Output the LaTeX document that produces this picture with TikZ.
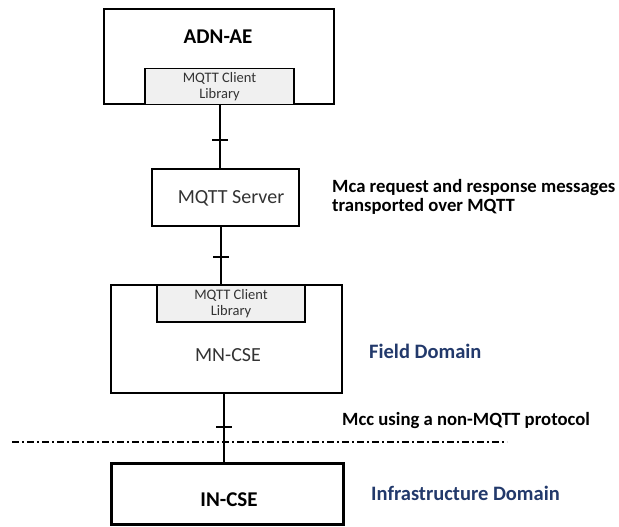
\documentclass[tikz,border=0pt]{standalone}
\usepackage{fontspec}
\setmainfont{Carlito}
\usetikzlibrary{calc}
\definecolor{libgray}{HTML}{F0F0F0}
\definecolor{domblue}{HTML}{22396B}
\definecolor{libtext}{HTML}{333333}
\begin{document}
\begin{tikzpicture}[x=1pt,y=-1pt,
  box/.style={draw=black, rectangle, inner sep=0pt},
  libbox/.style={draw=black, fill=libgray, rectangle, inner sep=0pt, line width=1.3pt,
    align=center, text=libtext, font=\fontsize{14.5}{16}\selectfont},
  boxtitle/.style={inner sep=0pt, font=\bfseries\fontsize{21}{24}\selectfont},
  boxtext/.style={inner sep=0pt, text=libtext, font=\fontsize{20}{24}\selectfont},
  conn/.style={line width=2.7pt},
  tickmark/.style={line width=2pt},
  note/.style={anchor=west, inner sep=0pt, align=left, font=\bfseries\fontsize{18.7}{19.5}\selectfont},
  domlabel/.style={anchor=west, inner sep=0pt, text=domblue, font=\bfseries\fontsize{20.5}{24}\selectfont}]
\useasboundingbox (0,0) rectangle (619,527);
% ADN-AE
\node[box, line width=2.5pt, minimum width=230pt, minimum height=95pt] (adn) at (219,56.5) {};
\node[boxtitle] (adnt) at (218,37) {ADN-AE};
\node[libbox, minimum width=149pt, minimum height=36pt] (adnlib) at (219.5,86.5) {MQTT Client\\Library};
% MQTT Server
\node[box, line width=2.2pt, minimum width=147pt, minimum height=57pt] (srv) at (225.5,197.5) {};
\node[boxtext] (srvt) at (231,198) {MQTT Server};
% MN-CSE
\node[box, line width=1.3pt, minimum width=231pt, minimum height=108pt] (mn) at (226.5,339) {};
\node[libbox, minimum width=148pt, minimum height=37pt] (mnlib) at (231,303.5) {MQTT Client\\Library};
\node[boxtext] (mnt) at (228,355) {MN-CSE};
% IN-CSE
\node[box, line width=3pt, minimum width=232pt, minimum height=61pt] (in) at (227,493.5) {};
\node[boxtitle] (int) at (229,500) {IN-CSE};
% connectors
\coordinate (c1t) at (220,104);
\draw[conn] (c1t) -- (c1t |- srv.north);
\draw[tickmark] ($(c1t)!0.56!(c1t |- srv.north)$) ++(-8,0) -- ++(16,0);
\coordinate (c2t) at (221,226);
\draw[conn] (c2t) -- (c2t |- mn.north);
\draw[tickmark] ($(c2t)!0.53!(c2t |- mn.north)$) ++(-8,0) -- ++(16,0);
\coordinate (c3t) at (224,393);
\draw[conn] (c3t) -- (c3t |- in.north);
\draw[tickmark] ($(c3t)!0.5!(c3t |- in.north)$) ++(-8,0) -- ++(16,0);
% domain boundary
\coordinate (dl) at (12,442);
\coordinate (dr) at (507,442);
\draw[line width=1.2pt, dash pattern=on 7pt off 3pt on 2pt off 3pt] (dl) -- (dr);
% labels
\node[note] (mca) at (332,197) {Mca request and response messages\\transported over MQTT};
\node[domlabel] (fd) at (369,351) {Field Domain};
\node[note] (mcc) at (342,421) {Mcc using a non-MQTT protocol};
\node[domlabel] (ind) at (371,493) {Infrastructure Domain};
\end{tikzpicture}
\end{document}
